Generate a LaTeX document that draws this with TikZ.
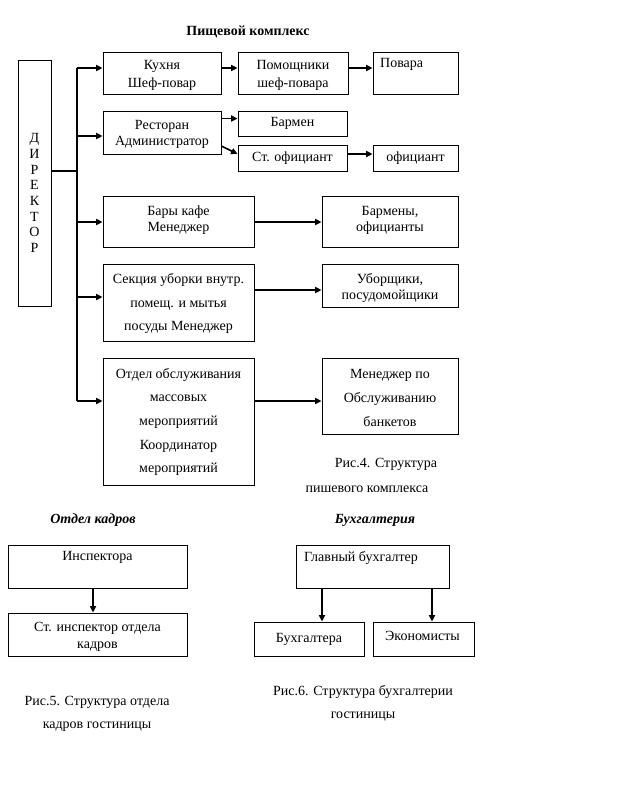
\documentclass[tikz,border=0pt]{standalone}
\usepackage{fontspec}
\setmainfont{Liberation Serif}
\usetikzlibrary{arrows.meta}
\newcommand\fnt[1]{\fontsize{14}{#1}\selectfont}
\begin{document}
\begin{tikzpicture}[x=1pt,y=-1pt,
  box/.style={draw, line width=0.8pt, inner sep=0pt, align=center, font=\fnt{16}},
  txt/.style={inner sep=0pt, align=center, font=\fnt{16}},
  ttl/.style={inner sep=0pt, font=\fontsize{14}{16}\selectfont\bfseries},
  ln/.style={line width=1.6pt},
  arr/.style={line width=1.6pt, -{Triangle[length=6.5pt,width=6pt]}}]
\useasboundingbox (0,0) rectangle (626,807);
\fill[white] (0,0) rectangle (626,807);

% ---------- Pishchevoy kompleks ----------
\node[ttl] (title) at (248,32) {Пищевой комплекс};

\node[box, minimum width=33, minimum height=246] (dir) at (34.5,183) {};
\node[txt, font=\fnt{15.7}] (dirtext) at (34.5,193) {Д\\И\\Р\\Е\\К\\Т\\О\\Р};

\node[box, minimum width=118, minimum height=42] (kitchen) at (162,73) {};
\node[txt, font=\fnt{18}] (kitchentext) at (162,75.5) {Кухня\\Шеф-повар};
\node[box, minimum width=110, minimum height=42] (assist) at (293,73) {};
\node[txt, font=\fnt{18}] (assisttext) at (293,75) {Помощники\\шеф-повара};
\node[box, minimum width=85, minimum height=42] (cooks) at (415.5,73) {};
\node[txt, anchor=west] (cookstext) at (380,64.5) {Повара};

\node[box, minimum width=118, minimum height=43] (rest) at (162,132.5) {};
\node[txt] (resttext) at (162,134) {Ресторан\\Администратор};
\node[box, minimum width=109, minimum height=25] (barman) at (292.5,123.5) {Бармен};
\node[box, minimum width=109, minimum height=26] (sroff) at (292.5,158) {Ст. официант};
\node[box, minimum width=85, minimum height=26] (waiter) at (415.5,158) {официант};

\node[box, minimum width=151, minimum height=51] (bars) at (178.5,221.5) {};
\node[txt] (barstext) at (178.5,220) {Бары кафе\\Менеджер};
\node[box, minimum width=136, minimum height=51] (barmen) at (390,221.5) {};
\node[txt] (barmentext) at (390,220.5) {Бармены,\\официанты};

\node[box, minimum width=151, minimum height=77] (clean) at (178.5,302.5) {};
\node[txt, font=\fnt{23.6}] (cleantext) at (178.5,303.5) {Секция уборки внутр.\\помещ. и мытья\\посуды Менеджер};
\node[box, minimum width=136, minimum height=43] (cleaners) at (390,285.5) {};
\node[txt] (cleanerstext) at (390,288) {Уборщики,\\посудомойщики};

\node[box, minimum width=151, minimum height=127] (events) at (178.5,421.5) {};
\node[txt, font=\fnt{23.6}] (eventstext) at (178.5,422) {Отдел обслуживания\\массовых\\мероприятий\\Координатор\\мероприятий};
\node[box, minimum width=136, minimum height=76] (banq) at (390,396) {};
\node[txt, font=\fnt{23.6}] (banqtext) at (390,398) {Менеджер по\\Обслуживанию\\банкетов};

\node[txt] (cap4a) at (386,464) {Рис.4. Структура};
\begin{scope}
\clip (250,470) rectangle (500,491);
\node[txt, anchor=base] (cap4b) at (367,492.5) {пищевого комплекса};
\end{scope}

% trunk
\coordinate (tmid) at (77,171);
\coordinate (ttop) at (77,68);
\coordinate (tbot) at (77,401);
\draw[ln] (dir.east |- tmid) -- (tmid);
\draw[ln] (ttop) -- (tbot);
\draw[arr] (ttop) -- (kitchen.west |- ttop);
\draw[arr] (77,136) -- (rest.west |- 0,136);
\draw[arr] (77,222) -- (bars.west |- 0,222);
\draw[arr] (77,297) -- (clean.west |- 0,297);
\draw[arr] (tbot) -- (events.west |- tbot);

\draw[arr] (kitchen.east |- 0,68) -- (assist.west |- 0,68);
\draw[arr] (assist.east |- 0,68) -- (cooks.west |- 0,68);
\draw[arr] (rest.east |- 0,118.5) -- (barman.west |- 0,118.5);
\draw[arr] (rest.east |- 0,146) -- (sroff.west |- 0,154);
\draw[arr] (sroff.east |- 0,154) -- (waiter.west |- 0,154);
\draw[arr] (bars.east |- 0,222) -- (barmen.west |- 0,222);
\draw[arr] (clean.east |- 0,290) -- (cleaners.west |- 0,290);
\draw[arr] (events.east |- 0,401) -- (banq.west |- 0,401);

% ---------- Otdel kadrov ----------
\node[ttl, font=\fontsize{14}{16}\selectfont\bfseries\itshape] (hrtitle) at (93,520) {Отдел кадров};
\node[box, minimum width=179, minimum height=43] (insp) at (97.5,566.5) {};
\node[txt] (insptext) at (97.5,557.5) {Инспектора};
\node[box, minimum width=179, minimum height=43] (srinsp) at (97.5,634.5) {};
\node[txt, font=\fnt{17}] (srinsptext) at (97.5,637) {Ст. инспектор отдела\\кадров};
\draw[arr] (insp.south -| 93,0) -- (srinsp.north -| 93,0);
\node[txt] (cap5a) at (97,702) {Рис.5. Структура отдела};
\node[txt] (cap5b) at (97,726.5) {кадров гостиницы};

% ---------- Bukhgalteriya ----------
\node[ttl, font=\fontsize{14}{16}\selectfont\bfseries\itshape] (acctitle) at (375,520) {Бухгалтерия};
\node[box, minimum width=153, minimum height=43] (chief) at (372.5,566.5) {};
\node[txt, anchor=west] (chieftext) at (304,557.5) {Главный бухгалтер};
\node[box, minimum width=110, minimum height=34] (accs) at (309,639) {Бухгалтера};
\node[box, minimum width=101, minimum height=34] (econ) at (423.5,639) {};
\node[txt] (econtext) at (422.5,636) {Экономисты};
\draw[arr] (chief.south -| 322,0) -- (accs.north -| 322,0);
\draw[arr] (chief.south -| 432,0) -- (econ.north -| 432,0);
\node[txt] (cap6a) at (363,692) {Рис.6. Структура бухгалтерии};
\node[txt] (cap6b) at (363,717) {гостиницы};
\end{tikzpicture}
\end{document}
